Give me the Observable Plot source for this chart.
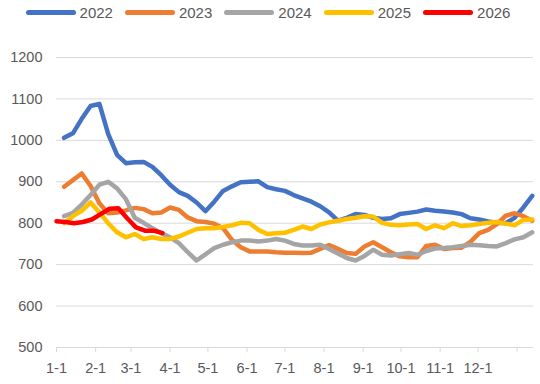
<!DOCTYPE html>
<html>
<head>
<meta charset="utf-8">
<script src="https://cdn.jsdelivr.net/npm/d3@7"></script>
<script src="https://cdn.jsdelivr.net/npm/@observablehq/plot@0.6"></script>
<style>
  html, body { margin: 0; padding: 0; background: #fff; }
  body { width: 540px; height: 384px; overflow: hidden; font-family: "Liberation Sans", Arial, sans-serif; }
  #legend { height: 30px; display: flex; justify-content: center; align-items: center; gap: 12px; padding-right: 4px; box-sizing: border-box; padding-bottom: 6px; }
  .item { display: flex; align-items: center; gap: 4px; font-size: 15px; color: #595959; }
  .sw { width: 50px; height: 5px; border-radius: 3px; display: inline-block; }
  #chart svg { display: block; }
</style>
</head>
<body>
<div id="legend"></div>
<div id="chart"></div>
<script>
const seriesNames = ["2022", "2023", "2024", "2025", "2026"];
const seriesColors = ["#4472C4", "#ED7D31", "#A5A5A5", "#FFC000", "#FF0000"];

// x tick positions (day of year) and labels
const tickDays = [0, 31, 59, 90, 120, 151, 181, 212, 243, 273, 304, 334, 365];
const tickLabels = ["1-1", "2-1", "3-1", "4-1", "5-1", "6-1", "7-1", "8-1", "9-1", "10-1", "11-1", "12-1", ""];
const yTicks = [500, 600, 700, 800, 900, 1000, 1100, 1200];

// weekly observation days (day of year)
const weekDays = [6, 13, 20, 27, 34, 41, 48, 55, 62, 69, 76, 83, 90, 97, 104, 111, 118, 125, 132, 139,
  146, 153, 160, 167, 174, 181, 188, 195, 202, 209, 216, 223, 230, 237, 244, 251, 258, 265, 272, 279,
  286, 293, 300, 307, 314, 321, 328, 335, 342, 349, 356, 363, 370, 377];
const weekDays2026 = [0, 7, 14, 21, 28, 35, 42, 49, 56, 63, 70, 77, 84];

const v2022 = [1006, 1017, 1052, 1083, 1088, 1015, 965, 945, 947, 948, 936, 916, 893, 875, 866, 850, 829, 852, 878, 889,
  899, 900, 901, 887, 882, 878, 868, 860, 852, 841, 826, 806, 813, 822, 820, 813, 810, 812, 822, 825,
  828, 833, 830, 828, 826, 822, 812, 809, 804, 801, 800, 813, 838, 866];
const v2023 = [888, 904, 920, 890, 848, 824, 826, 831, 837, 834, 824, 826, 838, 832, 814, 805, 803, 799, 788, 760,
  742, 732, 732, 732, 730, 729, 729, 728, 729, 738, 747, 738, 728, 726, 744, 754, 742, 730, 720, 718,
  718, 745, 748, 738, 740, 741, 755, 776, 784, 798, 818, 824, 817, 806];
const v2024 = [817, 825, 845, 868, 893, 900, 884, 858, 813, 801, 788, 776, 766, 752, 730, 710, 725, 740, 748, 754,
  758, 758, 756, 758, 762, 758, 750, 746, 746, 748, 738, 727, 716, 710, 721, 736, 724, 722, 725, 728,
  724, 733, 739, 740, 742, 745, 748, 747, 745, 744, 752, 761, 766, 778];
const v2025 = [800, 817, 830, 850, 826, 800, 778, 766, 774, 762, 766, 762, 762, 768, 777, 786, 788, 788, 791, 795,
  801, 800, 784, 774, 776, 777, 784, 792, 786, 797, 802, 806, 810, 813, 817, 816, 801, 796, 795, 797,
  798, 786, 795, 788, 800, 793, 795, 798, 801, 803, 799, 795, 808, 809];
const v2026 = [805, 803, 800, 803, 809, 822, 835, 836, 812, 790, 782, 782, 776];

const seriesValues = [v2022, v2023, v2024, v2025, v2026];
const seriesDays = [weekDays, weekDays, weekDays, weekDays, weekDays2026];

const rows = [];
seriesNames.forEach((name, k) => {
  seriesValues[k].forEach((v, i) => rows.push({series: name, day: seriesDays[k][i], value: v}));
});

// legend
const legend = document.getElementById("legend");
seriesNames.forEach((name, k) => {
  const it = document.createElement("div");
  it.className = "item";
  it.innerHTML = `<span class="sw" style="background:${seriesColors[k]}"></span><span>${name}</span>`;
  legend.appendChild(it);
});

const chart = Plot.plot({
  width: 540,
  height: 354,
  marginTop: 27,
  marginBottom: 37,
  marginLeft: 56,
  marginRight: 7,
  style: {fontFamily: "'Liberation Sans', Arial, sans-serif", fontSize: "14.5px", color: "#595959", background: "#fff"},
  x: {domain: [0, 378], ticks: tickDays, tickFormat: (d) => tickLabels[tickDays.indexOf(d)]},
  y: {domain: [500, 1200], ticks: yTicks, tickFormat: (d) => String(d)},
  color: {domain: seriesNames, range: seriesColors},
  marks: [
    Plot.ruleY(yTicks, {stroke: "#d9d9d9", strokeWidth: 1}),
    Plot.axisY({ticks: yTicks, tickFormat: (d) => String(d), tickSize: 0, tickPadding: 14, label: null, fontSize: 14.5, fill: "#595959"}),
    Plot.axisX({ticks: tickDays, tickFormat: (d) => tickLabels[tickDays.indexOf(d)], tickSize: 5, tickPadding: 10, stroke: "#d9d9d9", fill: "#595959", label: null, fontSize: 14.5}),
    Plot.line(rows, {x: "day", y: "value", z: "series", stroke: "series", strokeWidth: 4.5, strokeLinejoin: "round", strokeLinecap: "round"})
  ]
});
document.getElementById("chart").appendChild(chart);
</script>
</body>
</html>
